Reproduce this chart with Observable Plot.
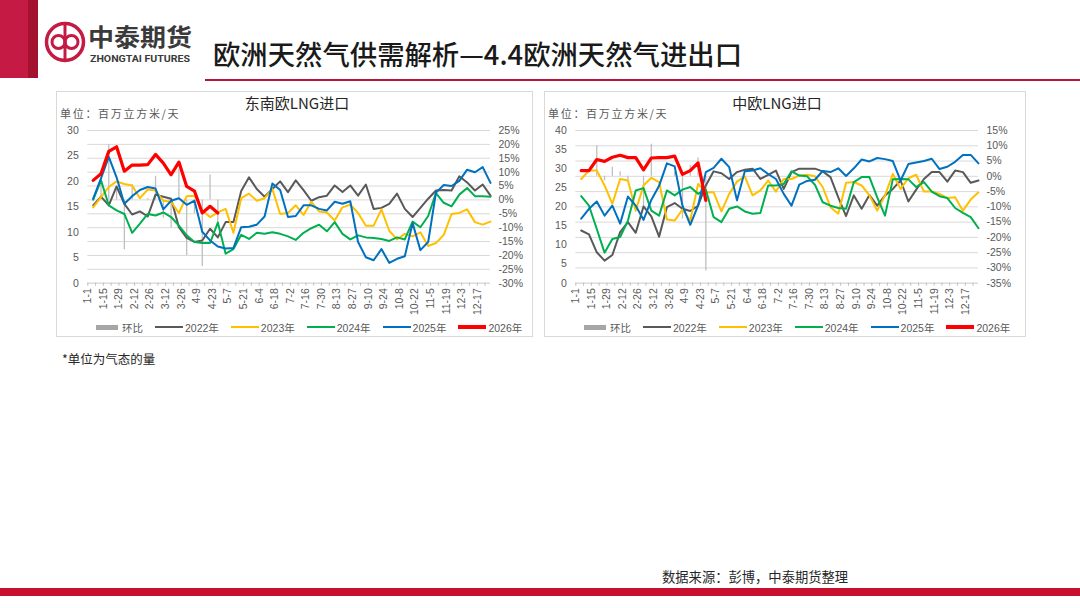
<!DOCTYPE html>
<html><head><meta charset="utf-8">
<script src="https://cdn.jsdelivr.net/npm/d3@7"></script>
<script src="https://cdn.jsdelivr.net/npm/@observablehq/plot@0.6"></script>
<style>
body{margin:0;background:#fff;}
#page{position:relative;width:1080px;height:608px;overflow:hidden;background:#fff;font-family:"Liberation Sans","Noto Sans CJK SC",sans-serif;}
.panel{position:absolute;border:1px solid #d9d9d9;box-sizing:border-box;}
.ctitle{position:absolute;font-family:"Noto Sans CJK SC";font-size:15px;color:#262626;transform:translateX(-50%);white-space:nowrap;line-height:1;}
.unit{position:absolute;font-family:"Noto Sans CJK SC";font-size:11px;letter-spacing:1.7px;color:#595959;line-height:1;white-space:nowrap;}
.legend{position:absolute;display:flex;align-items:center;gap:12px;font-size:10.5px;color:#595959;white-space:nowrap;height:14px;}
.li{display:flex;align-items:center;}
.sw{display:inline-block;margin-right:2px;}
.note{position:absolute;font-family:"Noto Sans CJK SC";color:#262626;white-space:nowrap;line-height:1;}
</style></head>
<body><div id="page">
<svg width="1080" height="90" style="position:absolute;left:0;top:0">
  <rect x="0" y="0" width="28" height="78" fill="#c41a43"/>
  <rect x="28" y="0" width="10" height="78" fill="#a3122f"/>
  <circle cx="65" cy="42" r="18.5" fill="none" stroke="#c41a43" stroke-width="3.5"/>
  <circle cx="58.5" cy="42" r="6.5" fill="none" stroke="#c41a43" stroke-width="3"/>
  <circle cx="71.5" cy="42" r="6.5" fill="none" stroke="#c41a43" stroke-width="3"/>
  <line x1="65" y1="25" x2="65" y2="59" stroke="#c41a43" stroke-width="3"/>
  <text x="88" y="45.5" font-family="Noto Sans CJK SC" font-size="24" font-weight="700" fill="#3a3a3a" textLength="104" lengthAdjust="spacingAndGlyphs">中泰期货</text>
  <text x="90" y="61.5" font-family="Roboto" font-size="9" font-weight="700" fill="#3a3a3a" textLength="100" lengthAdjust="spacingAndGlyphs">ZHONGTAI FUTURES</text>
  <text x="213" y="65" font-family="Noto Sans CJK SC" font-size="27" font-weight="500" fill="#1a1a1a" textLength="529" lengthAdjust="spacingAndGlyphs">欧洲天然气供需解析—4.4欧洲天然气进出口</text>
  <line x1="205" y1="80" x2="1080" y2="80" stroke="#b5173f" stroke-width="2"/>
</svg>
<div style="position:absolute;left:0;top:588px;width:1080px;height:8px;background:#c8102e"></div>
<div class="note" style="left:62px;top:353px;font-size:12.5px">*单位为气态的量</div>
<div class="note" style="left:662px;top:570px;font-size:13.3px">数据来源：彭博，中泰期货整理</div>
</div>
<script>
// week tick labels
const weekLabels = ["1-1","1-8","1-15","1-22","1-29","2-5","2-12","2-19","2-26","3-5","3-12","3-19","3-26","4-2","4-9","4-16","4-23","4-30","5-7","5-14","5-21","5-28","6-4","6-11","6-18","6-25","7-2","7-9","7-16","7-23","7-30","8-6","8-13","8-20","8-27","9-3","9-10","9-17","9-24","10-1","10-8","10-15","10-22","10-29","11-5","11-12","11-19","11-26","12-3","12-10","12-17","12-24"];
const seriesNames = ["2022年","2023年","2024年","2025年","2026年"];
const seriesColors = ["#595959","#ffc000","#00b050","#0070c0","#ff0000"];
const chgName = "环比";

// 东南欧LNG进口 (百万立方米/天)
const see2022 = [15.3,17.0,15.3,19.0,15.6,13.5,14.1,13.1,17.4,17.0,16.6,11.0,8.9,8.1,8.4,10.7,9.0,12.0,12.0,18.1,20.8,18.5,17.0,18.5,20.0,17.9,20.2,18.3,16.2,16.9,17.2,19.2,17.9,19.2,17.2,19.4,14.6,14.8,15.6,17.6,14.6,13.0,14.8,16.6,18.2,18.3,18.2,21.0,19.8,18.2,19.4,17.2];
const see2023 = [14.9,16.9,18.9,20.0,19.5,19.2,16.7,18.4,18.2,16.2,16.0,13.8,17.1,17.2,14.3,13.0,13.9,14.6,9.9,16.7,17.6,16.2,16.7,18.5,13.6,13.8,15.3,13.4,16.0,14.1,13.9,12.3,14.9,15.4,13.8,11.3,11.3,14.5,10.3,8.6,9.7,9.2,10.0,7.3,7.9,9.5,13.6,13.8,14.5,12.0,11.5,12.1];
const see2024 = [16.4,20.2,15.3,14.3,13.6,9.9,11.7,13.6,13.3,13.9,13.0,11.3,9.4,8.1,7.9,7.9,11.9,5.8,6.7,9.5,8.7,9.9,9.7,10.0,9.7,9.2,8.5,9.9,10.8,11.5,10.2,12.0,9.7,8.6,9.4,9.0,8.9,8.7,8.3,9.0,8.6,12.1,11.0,13.2,17.7,15.8,15.1,17.4,18.7,17.1,17.1,17.0];
const see2025 = [16.6,20.6,24.8,20.8,15.6,17.1,18.3,18.9,18.6,14.5,16.2,16.7,15.4,16.2,10.1,8.4,7.2,6.8,6.9,11.0,11.1,11.5,13.1,19.6,18.3,13.0,13.2,15.3,15.3,14.6,14.3,16.0,15.6,16.1,8.1,5.1,4.5,6.7,4.0,4.8,5.3,11.8,6.5,8.1,17.8,19.3,19.1,20.1,22.3,21.8,22.8,19.7];
const see2026 = [20.2,21.5,25.9,26.8,22.0,23.2,23.2,23.3,25.3,23.6,21.3,23.8,19.0,18.1,13.8,15.1,13.8];
const seeChg = [null,6,20,3.5,-18,5.5,0,0.5,8.5,-6.5,-10,11,-20,-5,-24,9,-9];
const seeLeftTicks = [0,5,10,15,20,25,30];
const seePctTicks = [25,20,15,10,5,0,-5,-10,-15,-20,-25,-30];

// 中欧LNG进口 (百万立方米/天)
const ce2022 = [13.8,12.8,8.1,5.9,7.4,13.4,16.0,13.2,20.1,17.5,12.2,19.9,21.0,19.5,18.9,20.3,25.6,29.3,28.8,27.3,29.1,29.7,30.0,27.3,28.4,29.5,24.7,29.1,30.0,30.0,30.0,29.3,27.8,22.5,17.6,23.0,19.5,23.1,20.3,23.0,24.7,26.9,21.4,24.5,27.3,29.1,29.1,26.6,29.5,29.1,26.3,26.9];
const ce2023 = [27.3,29.5,29.5,25.6,20.8,27.3,26.9,19.0,25.6,27.6,26.5,16.7,16.4,19.3,16.4,26.0,23.8,23.8,18.8,23.4,26.6,28.0,23.0,24.3,26.9,24.0,27.3,27.3,28.2,28.4,28.0,25.2,19.9,18.2,26.3,26.5,25.6,23.0,19.0,23.0,28.6,24.7,27.5,28.4,24.0,24.0,23.4,22.3,22.5,19.0,21.9,23.8];
const ce2024 = [22.8,20.3,14.2,8.0,11.6,12.1,16.4,24.3,24.9,19.0,17.7,24.3,23.0,24.5,25.2,23.4,24.5,17.3,16.0,19.5,20.1,18.8,18.2,18.4,25.6,25.6,26.0,29.3,28.2,28.0,25.8,21.2,20.3,19.7,19.5,26.5,27.8,27.8,22.5,17.7,27.2,27.3,27.2,25.2,26.5,24.0,22.8,22.3,19.7,18.4,17.3,14.4];
const ce2025 = [16.9,19.5,21.4,17.7,20.3,15.6,22.7,20.3,16.6,21.8,25.5,31.4,30.6,20.3,15.3,20.3,29.1,30.2,32.6,30.4,21.7,29.3,29.5,30.1,28.6,27.3,23.4,20.3,25.8,26.8,27.1,29.4,29.1,30.1,28.1,30.1,32.4,31.9,32.8,32.5,32.0,26.9,31.2,31.6,32.0,32.6,29.9,30.5,31.8,33.6,33.6,31.4];
const ce2026 = [29.5,29.5,32.4,31.9,33.0,33.5,32.9,32.9,29.7,32.8,32.9,32.9,33.3,28.5,29.5,31.5,21.7];
const ceChg = [null,0,10,-1.5,3,1.5,-2,0,-10,10.5,0,0,1.5,-14,3.5,6,-31];
const ceLeftTicks = [0,5,10,15,20,25,30,35,40];
const cePctTicks = [15,10,5,0,-5,-10,-15,-20,-25,-30,-35];

const page = document.getElementById("page");

function toRows(values){
  return values.map((v, i) => ({week: weekLabels[i], v})).filter(d => d.v != null);
}

function makeChart(cfg){
  const top = 120, height = 200, mT = 10, mB = 37.3;
  const width = cfg.panelRight - cfg.panelLeft;
  const mL = cfg.plotLeft - cfg.panelLeft;
  const mR = cfg.panelRight - cfg.plotRight;
  const xScale = {type: "point", domain: weekLabels, range: [cfg.firstX - cfg.panelLeft, cfg.plotRight - cfg.panelLeft], padding: 0, axis: null};
  const style = {position: "absolute", left: cfg.panelLeft + "px", top: top + "px", background: "transparent", overflow: "visible",
    fontFamily: '"Liberation Sans","Noto Sans CJK SC",sans-serif', fontSize: "10.5px", color: "#595959"};
  const labelDx = -5.4;

  // panel border
  const panel = document.createElement("div");
  panel.className = "panel";
  Object.assign(panel.style, {left: cfg.panelLeft + "px", top: "91px", width: width + "px", height: "246px"});
  page.appendChild(panel);

  // back layer: grid, 环比 bars, right axis
  const back = Plot.plot({
    width, height, marginTop: mT, marginBottom: mB, marginLeft: mL, marginRight: mR,
    x: xScale,
    y: {domain: cfg.pctDomain, axis: null},
    style,
    marks: [
      Plot.ruleY(cfg.pctTicks, {stroke: "#d9d9d9", strokeWidth: 1}),
      Plot.ruleX(toRows(cfg.chg), {x: "week", y1: 0, y2: "v", stroke: "#bfbfbf", strokeWidth: 1.3}),
      Plot.axisY(cfg.pctTicks, {anchor: "right", tickSize: 0, tickPadding: 8, tickFormat: d => d + "%", label: null})
    ]
  });
  page.appendChild(back);

  // front layer: lines and left / bottom axes
  const lineMarks = cfg.series.map((vals, k) => Plot.line(toRows(vals), {
    x: "week", y: "v", stroke: seriesColors[k], strokeWidth: k === 4 ? 3.2 : 2, strokeLinejoin: "round"
  }));
  const front = Plot.plot({
    width, height, marginTop: mT, marginBottom: mB, marginLeft: mL, marginRight: mR,
    x: xScale,
    y: {domain: cfg.leftDomain, axis: null},
    style,
    marks: [
      Plot.ruleY([cfg.leftDomain[0]], {stroke: "#d9d9d9"}),
      Plot.axisX(weekLabels, {tickSize: 3, tickFormat: () => "", dx: labelDx, stroke: "#bfbfbf", label: null}),
      Plot.axisX(weekLabels.filter((d, i) => i % 2 === 0), {tickSize: 0, tickRotate: -90, tickPadding: 5, dx: labelDx, label: null}),
      Plot.axisY(cfg.leftTicks, {anchor: "left", tickSize: 0, tickPadding: 9, label: null}),
      ...lineMarks
    ]
  });
  page.appendChild(front);

  // title and unit
  const t = document.createElement("div");
  t.className = "ctitle";
  t.textContent = cfg.title;
  Object.assign(t.style, {left: cfg.titleX + "px", top: "95px"});
  page.appendChild(t);
  const u = document.createElement("div");
  u.className = "unit";
  u.textContent = "单位：百万立方米/天";
  Object.assign(u.style, {left: (cfg.panelLeft + 4) + "px", top: "108px"});
  page.appendChild(u);

  // legend
  const lg = document.createElement("div");
  lg.className = "legend";
  Object.assign(lg.style, {left: (cfg.panelLeft + 40) + "px", top: "320px"});
  const items = [{name: chgName, bar: true}].concat(seriesNames.map((n, k) => ({name: n, color: seriesColors[k], w: k === 4 ? 3.5 : 2})));
  items.forEach(it => {
    const li = document.createElement("div");
    li.className = "li";
    const sw = document.createElement("span");
    sw.className = "sw";
    if (it.bar) Object.assign(sw.style, {width: "22px", height: "5px", background: "#a6a6a6", marginRight: "4px"});
    else Object.assign(sw.style, {width: "28px", height: it.w + "px", background: it.color});
    li.appendChild(sw);
    const tx = document.createElement("span");
    tx.textContent = it.name;
    li.appendChild(tx);
    lg.appendChild(li);
  });
  page.appendChild(lg);
}

makeChart({
  title: "东南欧LNG进口", titleX: 297,
  panelLeft: 56, panelRight: 533, plotLeft: 87.3, plotRight: 490, firstX: 92.7,
  leftDomain: [0, 30], leftTicks: seeLeftTicks,
  pctDomain: [-30, 25], pctTicks: seePctTicks,
  series: [see2022, see2023, see2024, see2025, see2026], chg: seeChg
});
makeChart({
  title: "中欧LNG进口", titleX: 777,
  panelLeft: 544, panelRight: 1026, plotLeft: 575.3, plotRight: 978, firstX: 580.7,
  leftDomain: [0, 40], leftTicks: ceLeftTicks,
  pctDomain: [-35, 15], pctTicks: cePctTicks,
  series: [ce2022, ce2023, ce2024, ce2025, ce2026], chg: ceChg
});
</script></body></html>
